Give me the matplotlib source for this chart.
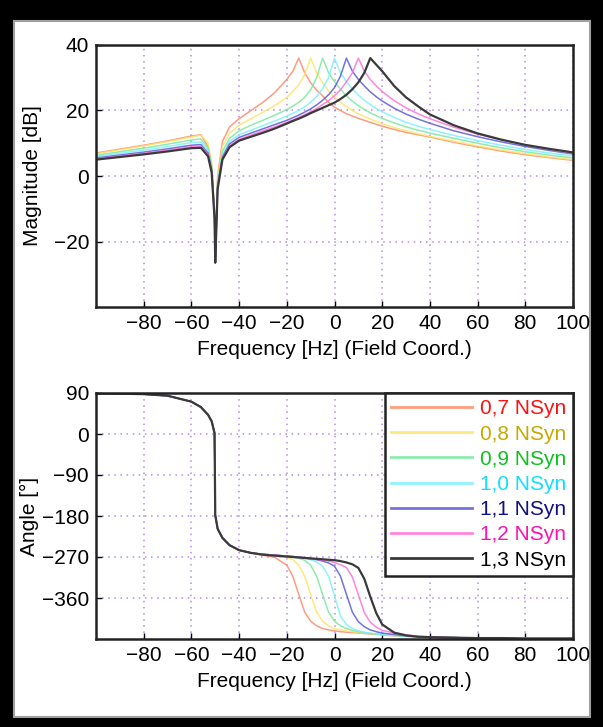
import matplotlib
matplotlib.use("Agg")
import matplotlib.pyplot as plt
from matplotlib.patches import Rectangle

plt.rcParams['font.family'] = ['Liberation Sans', 'DejaVu Sans']

# ---------------- data ----------------
freq = [-100, -90, -80, -70, -60, -56, -53, -51.5, -50.3, -50, -49, -47, -44, -40,
        -35, -30, -25, -20, -17.5, -15, -12.5, -10, -7.5, -5, -2.5, 0, 2.5, 5,
        7.5, 10, 12.5, 15, 17.5, 20, 25, 30, 35, 40, 50, 60, 70, 80, 90, 100]

labels = ["0,7 NSyn", "0,8 NSyn", "0,9 NSyn", "1,0 NSyn", "1,1 NSyn", "1,2 NSyn", "1,3 NSyn"]

mag_07 = [7.0, 8.2, 9.4, 10.7, 12.2, 12.6, 9.0, 3.0, -11, -24, 0, 10.5, 15.0, 17.5,
          20.0, 22.5, 25.5, 29.5, 32.0, 36.0, 31.5, 28.5, 26.2, 24.5, 22.5, 21.0, 20.0, 19.0,
          18.3, 17.6, 17.0, 16.4, 15.8, 15.2, 14.2, 13.3, 12.6, 11.9, 10.3, 8.9, 7.6, 6.5, 5.6, 4.8]
mag_08 = [6.8, 8.0, 9.2, 10.5, 11.9, 12.5, 10.0, 4.0, -10, -24, -1, 9.0, 13.0, 15.5,
          17.5, 19.5, 21.5, 24.0, 25.8, 27.8, 31.0, 36.0, 31.5, 28.5, 26.0, 24.0, 22.5, 21.2,
          20.0, 19.0, 18.2, 17.4, 16.7, 16.0, 14.8, 13.8, 12.9, 12.1, 10.6, 9.2, 7.9, 6.8, 5.8, 5.0]
mag_09 = [6.3, 7.4, 8.5, 9.7, 11.0, 11.3, 8.5, 3.0, -11, -25, -2, 7.5, 11.5, 13.8,
          15.5, 17.0, 18.6, 20.3, 21.3, 22.5, 24.0, 26.3, 30.0, 36.0, 31.5, 28.8, 26.5, 24.5,
          22.8, 21.5, 20.3, 19.3, 18.4, 17.6, 16.2, 15.0, 14.0, 13.1, 11.5, 10.0, 8.6, 7.4, 6.4, 5.5]
mag_10 = [5.9, 6.9, 7.9, 9.0, 10.2, 10.4, 7.8, 2.5, -12, -25.5, -2.5, 6.5, 10.5, 12.6,
          14.0, 15.4, 16.8, 18.3, 19.1, 20.0, 21.1, 22.5, 24.3, 26.7, 30.0, 36.0, 31.5, 28.8,
          26.5, 24.7, 23.1, 21.8, 20.6, 19.6, 17.9, 16.4, 15.2, 14.2, 12.4, 10.8, 9.4, 8.1, 7.0, 6.1]
mag_11 = [5.5, 6.4, 7.3, 8.3, 9.4, 9.6, 7.0, 2.0, -12, -26, -3, 5.8, 9.8, 11.8,
          13.1, 14.4, 15.7, 17.0, 17.8, 18.6, 19.5, 20.5, 21.7, 23.1, 24.8, 27.0, 30.5, 36.0,
          32.0, 29.5, 27.5, 25.7, 24.2, 22.9, 20.7, 18.9, 17.4, 16.1, 13.8, 12.0, 10.4, 9.0, 7.8, 6.7]
mag_12 = [5.2, 6.1, 6.9, 7.9, 8.9, 9.1, 6.5, 1.5, -12.5, -26, -3.5, 5.3, 9.2, 11.2,
          12.5, 13.8, 15.0, 16.4, 17.1, 17.9, 18.7, 19.6, 20.6, 21.8, 23.0, 24.5, 26.3, 28.8,
          31.5, 36.0, 32.0, 29.5, 27.5, 25.8, 23.0, 20.8, 19.0, 17.5, 14.9, 12.8, 11.0, 9.5, 8.2, 7.0]
mag_13 = [5.0, 5.8, 6.6, 7.5, 8.5, 8.6, 6.0, 1.0, -13, -26.5, -4, 5.0, 8.8, 10.8,
          12.0, 13.2, 14.5, 16.0, 16.8, 17.5, 18.3, 19.2, 20.0, 20.8, 21.6, 22.4, 23.5, 24.8,
          26.5, 28.6, 31.5, 36.0, 34.0, 32.0, 27.5, 24.0, 21.3, 18.8, 15.5, 13.0, 11.1, 9.5, 8.3, 7.2]

ph_07 = [89, 88.5, 87.5, 84, 71, 59, 42, 28, 2, -178, -208, -228, -244, -255,
         -261, -266, -271, -288, -312, -352, -391, -411, -421, -427, -430, -432, -434, -435,
         -436, -437, -438, -439, -440, -441, -443, -444, -445, -446, -447, -448, -448, -449, -449, -449]
ph_08 = [89, 88.5, 87.5, 84, 71, 59, 42, 28, 2, -178, -208, -228, -244, -255,
         -261, -264, -267, -271, -276, -288, -312, -352, -391, -411, -421, -427, -430, -432,
         -434, -436, -437, -438, -439, -440, -442, -444, -445, -446, -447, -448, -448, -449, -449, -449]
ph_09 = [89, 88.5, 87.5, 84, 71, 59, 42, 28, 2, -178, -208, -228, -244, -255,
         -261, -264, -266, -268, -270, -273, -277, -288, -312, -352, -391, -411, -421, -427,
         -431, -434, -436, -438, -439, -440, -442, -444, -445, -446, -447, -448, -448, -449, -449, -449]
ph_10 = [89, 88.5, 87.5, 84, 71, 59, 42, 28, 2, -178, -208, -228, -244, -255,
         -261, -264, -266, -268, -269, -271, -273, -276, -281, -290, -312, -355, -400, -418,
         -427, -432, -435, -437, -439, -440, -442, -444, -445, -446, -447, -448, -448, -449, -449, -449]
ph_11 = [89, 88.5, 87.5, 84, 71, 59, 42, 28, 2, -178, -208, -228, -244, -255,
         -261, -264, -266, -268, -269, -270, -272, -274, -276, -279, -283, -290, -312, -352,
         -391, -412, -423, -430, -434, -437, -440, -443, -445, -446, -447, -448, -448, -449, -449, -449]
ph_12 = [89, 88.5, 87.5, 84, 71, 59, 42, 28, 2, -178, -208, -228, -244, -255,
         -261, -264, -266, -268, -269, -270, -272, -274, -275, -277, -279, -282, -287, -293,
         -314, -353, -392, -413, -424, -431, -437, -441, -444, -445, -447, -448, -448, -449, -449, -449]
ph_13 = [89, 88.5, 87.5, 84, 71, 59, 42, 28, 2, -178, -208, -228, -244, -255,
         -261, -265, -267, -269, -270, -271, -272, -273, -274, -275, -276, -277, -279, -282,
         -286, -294, -318, -357, -393, -418, -436, -442, -445, -446, -447, -448, -448, -449, -449, -449]

mags = [mag_07, mag_08, mag_09, mag_10, mag_11, mag_12, mag_13]
phases = [ph_07, ph_08, ph_09, ph_10, ph_11, ph_12, ph_13]

xticks = [-80, -60, -40, -20, 0, 20, 40, 60, 80, 100]
mag_ticks = [-20, 0, 20, 40]
ph_ticks = [-360, -270, -180, -90, 0, 90]

# ---------------- style ----------------
line_colors = ['#ff8a6a', '#ffe46a', '#7ae8a0', '#7af0ff', '#5a5ad8', '#ff70d8', '#3a3a3a']
line_alpha = [0.85, 0.85, 0.85, 0.85, 0.85, 0.85, 1.0]
line_width = [1.1, 1.1, 1.1, 1.1, 1.1, 1.1, 1.6]
text_colors = ['#ff1010', '#c8a800', '#10c020', '#10e0ff', '#101080', '#ff10b0', '#000000']
grid_color = '#9f70e0'
FS = 15

W, H = 603, 727
fig = plt.figure(figsize=(W / 100, H / 100), dpi=100)
fig.patch.set_facecolor('black')
fig.patches.append(Rectangle((14 / W, 1 - 717 / H), (590 - 14) / W, (717 - 21) / H,
                             transform=fig.transFigure, facecolor='white',
                             edgecolor='#a0a0a0', linewidth=1.5, zorder=-10))


def style_axes(ax, yt, ylim):
    ax.set_xlim(-100, 100)
    ax.set_ylim(*ylim)
    ax.set_xticks(xticks)
    ax.set_yticks(yt)
    ax.tick_params(direction='in', length=4, labelsize=FS, width=1, pad=5)
    ax.grid(True, color=grid_color, linestyle=(0, (1, 3)), linewidth=1.1, alpha=0.8)
    for s in ax.spines.values():
        s.set_linewidth(1.8)
        s.set_color('#222222')
    ax.set_xlabel("Frequency [Hz] (Field Coord.)", fontsize=FS, labelpad=5)


ax1 = fig.add_axes([96 / W, 1 - 307 / H, 477 / W, 262 / H])
for m, c, a, lw in zip(mags, line_colors, line_alpha, line_width):
    ax1.plot(freq, m, color=c, alpha=a, linewidth=lw)
style_axes(ax1, mag_ticks, (-40, 40))
ax1.set_ylabel("Magnitude [dB]", fontsize=FS, labelpad=8)

ax2 = fig.add_axes([96 / W, 1 - 639 / H, 477 / W, 246 / H])
handles = []
for p, c, a, lw, lab in zip(phases, line_colors, line_alpha, line_width, labels):
    h, = ax2.plot(freq, p, color=c, alpha=a, linewidth=lw, label=lab)
    handles.append(h)
style_axes(ax2, ph_ticks, (-450, 90))
ax2.set_ylabel("Angle [°]", fontsize=FS, labelpad=2)

leg = ax2.legend(handles=handles, loc='upper right', bbox_to_anchor=(1.0, 1.0),
                 borderaxespad=0, fontsize=FS, labelcolor=text_colors,
                 handlelength=3.9, handletextpad=0.4, labelspacing=0.3,
                 fancybox=False, framealpha=1, edgecolor='#222222',
                 borderpad=0.3, markerfirst=True)
leg.get_frame().set_linewidth(1.8)
for lh in leg.get_lines():
    lh.set_linewidth(2)

fig.savefig("out.png", dpi=100, facecolor=fig.get_facecolor())
